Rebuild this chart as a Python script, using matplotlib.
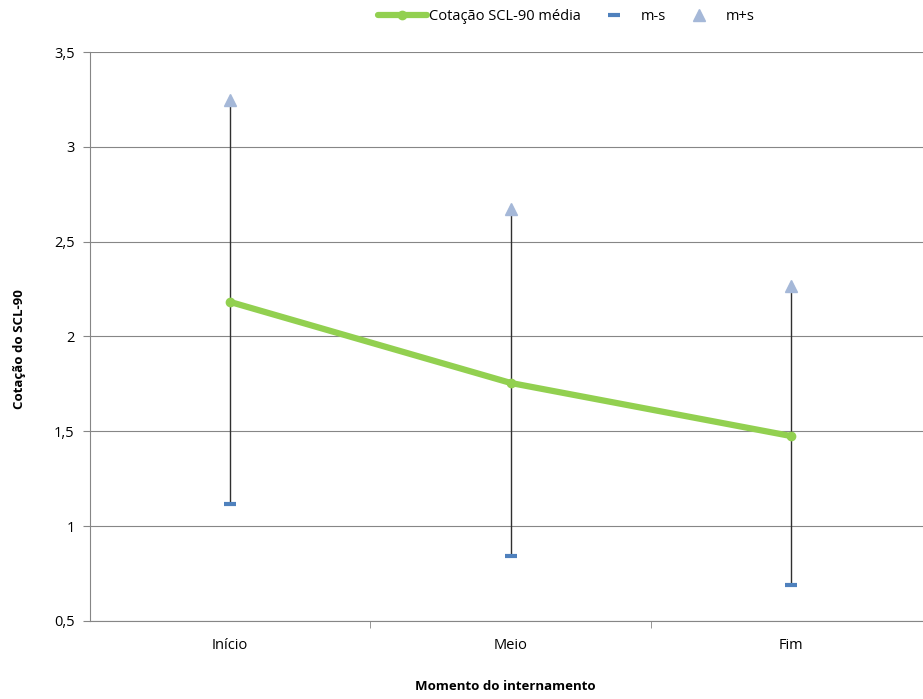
import matplotlib
matplotlib.use("Agg")
import matplotlib.pyplot as plt
from matplotlib.ticker import FuncFormatter

categories = ["Início", "Meio", "Fim"]
mean_vals = [2.182, 1.755, 1.475]
minus_s = [1.117, 0.843, 0.690]
plus_s = [3.247, 2.672, 2.266]
yticks = [0.5, 1, 1.5, 2, 2.5, 3, 3.5]

plt.rcParams['font.family'] = ['Open Sans', 'DejaVu Sans']

fig = plt.figure(figsize=(9.23, 6.99), dpi=100)
ax = fig.add_axes([90/923, 1-621/699, 1-90/923, (621-52)/699])

x = list(range(len(categories)))
grid_c = "#868686"

# error lines
ax.vlines(x, minus_s, plus_s, colors="#303030", linewidth=1.0, zorder=2)
l_mean, = ax.plot(x, mean_vals, color="#92D050", linewidth=4.5, marker="o",
                  markersize=6, solid_capstyle="round", label="Cotação SCL-90 média", zorder=3)
l_minus, = ax.plot(x, minus_s, linestyle="none", marker="_", markersize=8,
                   markeredgewidth=3, color="#4F81BD", label="m-s", zorder=4)
l_plus, = ax.plot(x, plus_s, linestyle="none", marker="^", markersize=9,
                  color="#A5B8D8", markeredgecolor="#A5B8D8", label="m+s", zorder=4)

ax.set_ylim(0.5, 3.5)
ax.set_yticks(yticks)
ax.yaxis.set_major_formatter(FuncFormatter(lambda v, p: ("%g" % v).replace(".", ",")))
ax.set_xlim(-0.5, 2.5 - 8.5/281)
ax.set_xticks(x)
ax.set_xticklabels(categories)
ax.set_xticks([0.5, 1.5], minor=True)
ax.tick_params(axis="x", which="major", length=0, pad=12, labelsize=10.5, colors="#000000")
ax.tick_params(axis="x", which="minor", length=5, color=grid_c)
ax.tick_params(axis="y", length=5, color=grid_c, labelsize=10.5, pad=6)

ax.grid(axis="y", color=grid_c, linewidth=0.8)
ax.set_axisbelow(True)
for s in ["top", "right"]:
    ax.spines[s].set_visible(False)
for s in ["left", "bottom"]:
    ax.spines[s].set_color(grid_c)
    ax.spines[s].set_linewidth(0.8)

ax.set_ylabel("Cotação do SCL-90", fontweight="bold", fontsize=9.5)
ax.yaxis.set_label_coords(-70/833, (621-349)/569)
ax.set_xlabel("Momento do internamento", fontweight="bold", fontsize=9.5)
ax.xaxis.set_label_coords((505-90)/833, -(686-621)/569)
ax.xaxis.label.set_va("center")
ax.yaxis.label.set_va("center")

fig.legend(handles=[l_mean, l_minus, l_plus], loc="center", ncol=3,
           bbox_to_anchor=(566/923, 1-17/699), frameon=False, fontsize=10.5,
           handlelength=3.4, handletextpad=0.1, columnspacing=0.6)

fig.savefig("out.png", dpi=100)
